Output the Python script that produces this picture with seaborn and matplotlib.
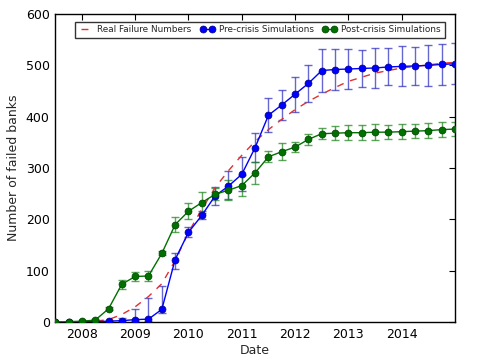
import numpy as np
import pandas as pd
import matplotlib
matplotlib.use("Agg")
import matplotlib.pyplot as plt
import seaborn as sns

# Quarterly dates (decimal years)
dates = [2007.5, 2007.75, 2008.0, 2008.25, 2008.5, 2008.75, 2009.0, 2009.25,
         2009.5, 2009.75, 2010.0, 2010.25, 2010.5, 2010.75, 2011.0, 2011.25,
         2011.5, 2011.75, 2012.0, 2012.25, 2012.5, 2012.75, 2013.0, 2013.25,
         2013.5, 2013.75, 2014.0, 2014.25, 2014.5, 2014.75, 2015.0]

real_failures = [0, 0, 1, 2, 5, 15, 30, 50, 75, 120, 175, 220, 262, 295, 325, 352,
                 375, 395, 414, 430, 444, 457, 469, 477, 485, 490, 495, 498, 501, 504, 506]

pre_crisis = [0, 0, 1, 1, 2, 3, 5, 6, 25, 122, 175, 208, 246, 265, 288, 340,
              403, 423, 444, 465, 490, 492, 493, 494, 495, 497, 498, 499, 500, 502, 503]
pre_err_low = [0, 0, 0, 0, 1, 2, 3, 3, 8, 18, 10, 8, 17, 26, 33, 28,
               33, 29, 34, 36, 42, 40, 39, 36, 39, 36, 39, 37, 40, 40, 40]
pre_err_high = [0, 0, 0, 0, 1, 5, 21, 42, 45, 13, 10, 8, 17, 29, 33, 28,
                33, 29, 34, 36, 42, 40, 39, 36, 39, 36, 39, 37, 40, 40, 40]

post_crisis = [0, 1, 2, 4, 26, 74, 89, 90, 134, 190, 216, 233, 249, 257, 266, 291,
               322, 332, 341, 356, 367, 368, 369, 369, 370, 370, 371, 372, 373, 375, 376]
post_err = [0, 1, 1, 2, 3, 9, 8, 10, 4, 14, 16, 20, 12, 20, 20, 21,
            11, 17, 10, 11, 11, 14, 14, 14, 15, 14, 15, 14, 15, 14, 14]

labels_series = ["Real Failure Numbers", "Pre-crisis Simulations", "Post-crisis Simulations"]
year_ticks = [2008, 2009, 2010, 2011, 2012, 2013, 2014]

sns.set_style("white")
plt.rcParams['font.family'] = ['DejaVu Sans']

fig = plt.figure(figsize=(4.8, 3.6), dpi=100)
ax = fig.add_axes([0.115, 0.105, 0.833, 0.856])

df = pd.DataFrame({"date": dates, "real": real_failures,
                   "pre": pre_crisis, "post": post_crisis})

# error bars
ax.errorbar(dates, pre_crisis, yerr=[pre_err_low, pre_err_high], fmt='none',
            ecolor=(0.15, 0.15, 0.75), alpha=0.7, elinewidth=1.0, capsize=3, capthick=1.0, zorder=2)
ax.errorbar(dates, post_crisis, yerr=post_err, fmt='none',
            ecolor=(0.1, 0.5, 0.1), alpha=0.7, elinewidth=1.0, capsize=3, capthick=1.0, zorder=2)

sns.lineplot(data=df, x="date", y="real", ax=ax, color="#e03030", linestyle=(0, (5, 5)),
             linewidth=1.0, label=labels_series[0], zorder=3)
sns.lineplot(data=df, x="date", y="pre", ax=ax, color="#0000ff", marker="o", markersize=5,
             markeredgecolor="#000080", markeredgewidth=0.5,
             linewidth=1.0, label=labels_series[1], zorder=4)
sns.lineplot(data=df, x="date", y="post", ax=ax, color="#007000", marker="o", markersize=5,
             markeredgecolor="#004000", markeredgewidth=0.5,
             linewidth=1.0, label=labels_series[2], zorder=4)

ax.set_xlim(2007.5, 2015.0)
ax.set_ylim(0, 600)
ax.set_xticks(year_ticks)
ax.set_xticklabels([str(y) for y in year_ticks])
ax.set_yticks([0, 100, 200, 300, 400, 500, 600])
ax.tick_params(direction='in', length=4, width=0.8, top=True, right=True,
               labelsize=9, colors='black', pad=4)
for sp in ax.spines.values():
    sp.set_visible(True)
    sp.set_color('black')
    sp.set_linewidth(1.0)

ax.set_xlabel("Date", fontsize=9, labelpad=2)
ax.set_ylabel("Number of failed banks", fontsize=9, labelpad=4)

leg = ax.legend(loc='upper right', ncol=3, fontsize=6.4, numpoints=2, frameon=True,
                fancybox=False, edgecolor='black', handlelength=1.6, handletextpad=0.5,
                columnspacing=1.0, borderpad=0.4, bbox_to_anchor=(0.985, 0.99),
                markerscale=1.0)
leg.get_frame().set_linewidth(1.0)

fig.savefig("out.png", dpi=100)
